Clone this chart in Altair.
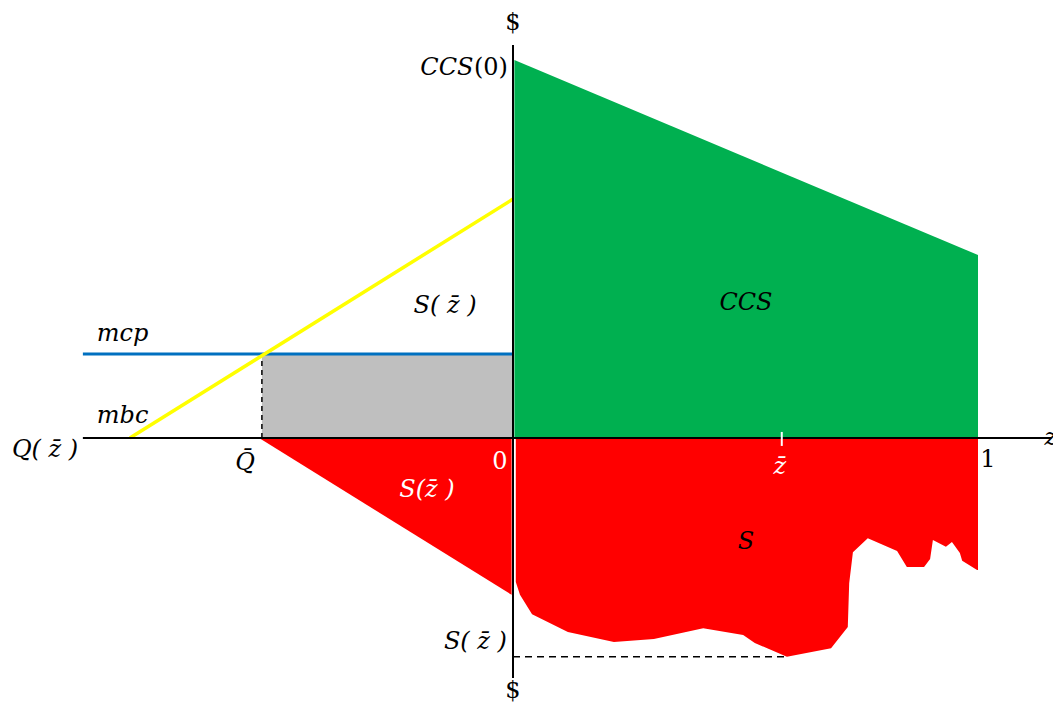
import altair as alt
import pandas as pd

# ---- data (economic units: x = z share / quantity, y = dollars) ----
ccs_z = [0.003, 1.0]
ccs_v = [10.0, 4.84]

s_z = [0.006, 0.015, 0.041, 0.118, 0.217, 0.303, 0.409, 0.495, 0.520, 0.589,
       0.684, 0.720, 0.723, 0.731, 0.763, 0.826, 0.847, 0.884, 0.897, 0.903,
       0.931, 0.944, 0.961, 0.966, 0.998, 1.0]
s_v = [-3.81, -4.15, -4.66, -5.13, -5.40, -5.32, -5.03, -5.21, -5.42, -5.79,
       -5.56, -5.00, -3.84, -3.02, -2.65, -2.99, -3.41, -3.41, -3.20, -2.70,
       -2.88, -2.75, -3.04, -3.25, -3.49, -3.49]

left_q = [-0.546, -0.003]
left_v = [0.0, -4.15]

mbc_q = [-0.824, 0.0]
mbc_v = [0.0, 6.32]

mcp_q = [-0.925, 0.0]
mcp_level = 2.22

q_bar = -0.54
z_bar = 0.578
s_min_z = 0.589
s_min = -5.79

# ---- scales mapped to the page ----
W, H = 1045, 696
ORIGIN_PX, ORIGIN_PY = 513 - 8, 438 - 8
PX_PER_X, PX_PER_Y = 465.0, 37.8
x_dom = [-ORIGIN_PX / PX_PER_X, (W - ORIGIN_PX) / PX_PER_X]
y_dom = [-(H - ORIGIN_PY) / PX_PER_Y, ORIGIN_PY / PX_PER_Y]
xs = alt.Scale(domain=x_dom, nice=False, zero=False)
ys = alt.Scale(domain=y_dom, nice=False, zero=False)


def X(f):
    return alt.X(f, type="quantitative", scale=xs, axis=None)


def Y(f):
    return alt.Y(f, type="quantitative", scale=ys, axis=None)


GREEN, RED, GREY, BLUE, YELLOW = "#00B050", "#FF0000", "#BFBFBF", "#0070C0", "#FFFF00"

green = alt.Chart(pd.DataFrame({"x": ccs_z, "y": ccs_v, "b": 0.0})).mark_area(
    color=GREEN, opacity=1).encode(x=X("x"), y=Y("y"), y2="b")

red_s = alt.Chart(pd.DataFrame({"x": s_z, "y": s_v, "b": 0.0})).mark_area(
    color=RED, opacity=1).encode(x=X("x"), y=Y("y"), y2="b")

red_left = alt.Chart(pd.DataFrame({"x": left_q, "y": left_v, "b": 0.0})).mark_area(
    color=RED, opacity=1).encode(x=X("x"), y=Y("y"), y2="b")

grey = alt.Chart(pd.DataFrame({"x": [q_bar], "x2": [0.0], "y": [0.0], "y2": [mcp_level]})).mark_rect(
    color=GREY, opacity=1).encode(x=X("x"), x2="x2", y=Y("y"), y2="y2")

dash_v = alt.Chart(pd.DataFrame({"x": [q_bar], "y": [0.0], "y2": [mcp_level]})).mark_rule(
    color="black", strokeDash=[5, 4], strokeWidth=1.5).encode(x=X("x"), y=Y("y"), y2="y2")

dash_h = alt.Chart(pd.DataFrame({"x": [0.0], "x2": [s_min_z], "y": [s_min]})).mark_rule(
    color="black", strokeDash=[7, 5], strokeWidth=1.5).encode(x=X("x"), x2="x2", y=Y("y"))

blue = alt.Chart(pd.DataFrame({"x": mcp_q, "y": [mcp_level, mcp_level]})).mark_line(
    color=BLUE, strokeWidth=3).encode(x=X("x"), y=Y("y"))

yellow = alt.Chart(pd.DataFrame({"x": mbc_q, "y": mbc_v})).mark_line(
    color=YELLOW, strokeWidth=3.5).encode(x=X("x"), y=Y("y"))

h_axis = alt.Chart(pd.DataFrame({"x": [-0.925], "x2": [1.158], "y": [0.0]})).mark_rule(
    color="black", strokeWidth=2).encode(x=X("x"), x2="x2", y=Y("y"))

v_axis = alt.Chart(pd.DataFrame({"x": [0.0], "y": [-6.35], "y2": [10.40]})).mark_rule(
    color="black", strokeWidth=2).encode(x=X("x"), y=Y("y"), y2="y2")

zbar_tick = alt.Chart(pd.DataFrame({"x": [z_bar], "y": [-0.21], "y2": [0.16]})).mark_rule(
    color="white", strokeWidth=2).encode(x=X("x"), y=Y("y"), y2="y2")

# ---- labels ----
ZB = "z\u0304"
labels = [
    # text, x, y, color, italic, align
    ("$", 0.0, 10.98, "black", False, "center"),
    ("CCS", -0.085, 9.79, "black", True, "right"),
    ("(0)", -0.011, 9.79, "black", False, "right"),
    ("S( " + ZB + " )", -0.146, 3.49, "black", True, "center"),
    ("CCS", 0.501, 3.57, "black", True, "center"),
    ("mcp", -0.895, 2.75, "black", True, "left"),
    ("mbc", -0.895, 0.58, "black", True, "left"),
    ("Q( " + ZB + " )", -0.935, -0.32, "black", True, "right"),
    ("Q\u0304", -0.576, -0.66, "black", True, "center"),
    ("0", -0.028, -0.63, "white", False, "center"),
    ("S(" + ZB + " )", -0.185, -1.38, "white", True, "center"),
    (ZB, 0.574, -0.77, "white", True, "center"),
    ("1", 1.0215, -0.58, "black", False, "center"),
    ("S", 0.501, -2.75, "black", True, "center"),
    ("S( " + ZB + " )", -0.013, -5.40, "black", True, "right"),
    ("$", 0.0, -6.70, "black", False, "center"),
    ("z", 1.143, 0.0, "black", True, "left"),
]
lab = pd.DataFrame(labels, columns=["t", "x", "y", "c", "it", "al"])

text_layers = []
for (c, it, al), g in lab.groupby(["c", "it", "al"]):
    text_layers.append(
        alt.Chart(g).mark_text(
            font="DejaVu Serif", fontSize=24, fontStyle="italic" if it else "normal",
            color=c, align=al, baseline="middle").encode(x=X("x"), y=Y("y"), text="t:N"))

chart = alt.layer(
    green, red_s, red_left, grey, dash_v, dash_h, blue, yellow,
    h_axis, v_axis, zbar_tick, *text_layers
).properties(width=W, height=H, padding=0, autosize="none",
             background="white").configure_view(stroke=None)

chart.save("out.html", embed_options={"renderer": "svg", "actions": False})
